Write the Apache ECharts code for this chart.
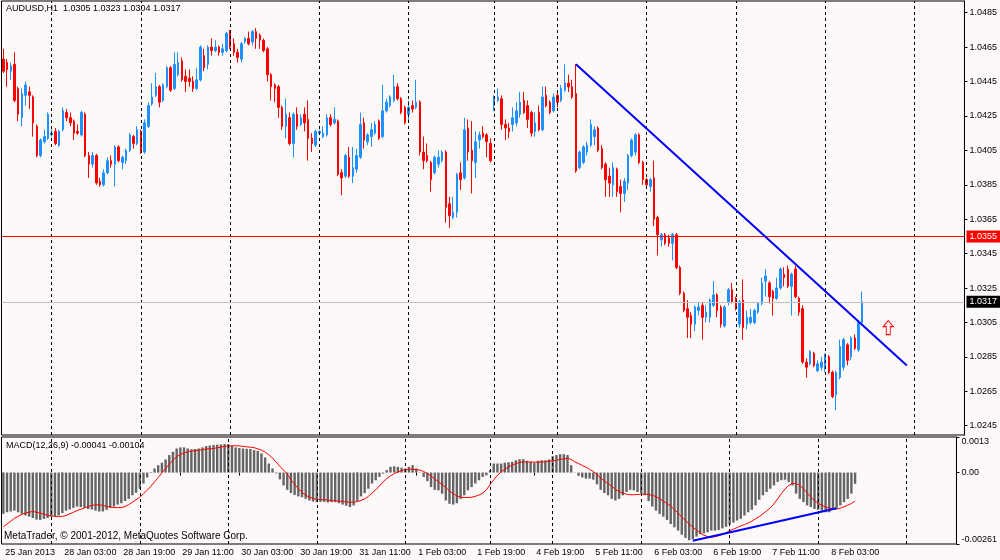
<!DOCTYPE html>
<html>
<head>
<meta charset="utf-8">
<title>AUDUSD,H1</title>
<script src="https://cdn.jsdelivr.net/npm/echarts@6/dist/echarts.min.js"></script>
<style>
  html, body { margin: 0; padding: 0; background: #fcf9f8; }
  #chart { width: 1000px; height: 560px; }
</style>
</head>
<body>
<div id="chart"></div>
<script>
// hourly bars, 25 Jan 11:00 .. 8 Feb 10:00
const opens = [
  1.0458,1.0456,1.0451,1.0455,1.0441,1.0424,1.0437,1.0439,1.0436,1.0419,1.0402,1.0410,
  1.0412,1.0414,1.0416,1.0408,1.0417,1.0427,1.0424,1.0422,1.0416,1.0414,1.0426,1.0402,
  1.0397,1.0402,1.0387,1.0385,1.0392,1.0399,1.0397,1.0407,1.0398,1.0399,1.0405,1.0413,
  1.0409,1.0416,1.0404,1.0419,1.0432,1.0437,1.0442,1.0434,1.0442,1.0453,1.0441,1.0449,
  1.0457,1.0448,1.0447,1.0445,1.0441,1.0446,1.0460,1.0455,1.0465,1.0463,1.0465,1.0462,
  1.0463,1.0474,1.0467,1.0462,1.0458,1.0468,1.0470,1.0468,1.0474,1.0472,1.0469,1.0464,
  1.0449,1.0443,1.0442,1.0430,1.0419,1.0424,1.0409,1.0426,1.0420,1.0426,1.0423,1.0412,
  1.0408,1.0415,1.0413,1.0414,1.0424,1.0421,1.0422,1.0392,1.0390,1.0401,1.0390,1.0394,
  1.0401,1.0421,1.0410,1.0413,1.0415,1.0422,1.0413,1.0428,1.0431,1.0434,1.0442,1.0435,
  1.0430,1.0426,1.0431,1.0430,1.0433,1.0404,1.0402,1.0398,1.0392,1.0397,1.0399,1.0404,
  1.0374,1.0366,1.0369,1.0392,1.0389,1.0418,1.0405,1.0398,1.0411,1.0415,1.0414,1.0409,
  1.0431,1.0434,1.0435,1.0420,1.0418,1.0420,1.0421,1.0426,1.0434,1.0431,1.0427,1.0416,
  1.0427,1.0417,1.0437,1.0433,1.0428,1.0437,1.0434,1.0440,1.0444,1.0442,1.0438,1.0395,
  1.0398,1.0404,1.0408,1.0413,1.0418,1.0406,1.0397,1.0390,1.0385,1.0394,1.0384,1.0380,
  1.0386,1.0402,1.0404,1.0414,1.0398,1.0388,1.0384,1.0389,1.0366,1.0353,1.0356,1.0354,
  1.0351,1.0356,1.0337,1.0322,1.0313,1.0309,1.0304,1.0312,1.0315,1.0308,1.0308,1.0315,
  1.0321,1.0314,1.0303,1.0317,1.0324,1.0319,1.0304,1.0318,1.0304,1.0305,1.0305,1.0311,
  1.0316,1.0329,1.0328,1.0323,1.0319,1.0325,1.0333,1.0336,1.0326,1.0336,1.0319,1.0313,
  1.0282,1.0281,1.0287,1.0277,1.0279,1.0280,1.0285,1.0276,1.0263,1.0273,1.0279,1.0292,
  1.0285,1.0296,1.0289,1.0305
];
const closes = [
  1.0451,1.0452,1.0454,1.0434,1.0426,1.0438,1.0443,1.0437,1.0421,1.0402,1.0411,1.0413,
  1.0426,1.0415,1.0409,1.0416,1.0428,1.0424,1.0421,1.0415,1.0415,1.0427,1.0402,1.0397,
  1.0402,1.0386,1.0385,1.0392,1.0399,1.0397,1.0407,1.0399,1.0401,1.0405,1.0414,1.0409,
  1.0417,1.0404,1.0421,1.0431,1.0436,1.0442,1.0433,1.0443,1.0453,1.0440,1.0455,1.0456,
  1.0446,1.0445,1.0445,1.0441,1.0446,1.0465,1.0453,1.0465,1.0463,1.0465,1.0462,1.0464,
  1.0473,1.0465,1.0462,1.0459,1.0467,1.0470,1.0467,1.0474,1.0470,1.0469,1.0463,1.0449,
  1.0442,1.0441,1.0430,1.0419,1.0426,1.0409,1.0426,1.0419,1.0424,1.0421,1.0412,1.0409,
  1.0416,1.0416,1.0415,1.0424,1.0420,1.0423,1.0391,1.0389,1.0402,1.0390,1.0395,1.0402,
  1.0420,1.0411,1.0414,1.0417,1.0420,1.0412,1.0428,1.0433,1.0436,1.0442,1.0435,1.0427,
  1.0421,1.0430,1.0429,1.0433,1.0404,1.0399,1.0399,1.0388,1.0401,1.0401,1.0404,1.0372,
  1.0367,1.0369,1.0391,1.0388,1.0417,1.0404,1.0399,1.0410,1.0414,1.0413,1.0410,1.0399,
  1.0435,1.0436,1.0420,1.0418,1.0416,1.0424,1.0428,1.0433,1.0427,1.0423,1.0415,1.0421,
  1.0417,1.0436,1.0431,1.0427,1.0436,1.0433,1.0441,1.0444,1.0442,1.0436,1.0393,1.0404,
  1.0407,1.0408,1.0420,1.0417,1.0405,1.0395,1.0388,1.0386,1.0395,1.0381,1.0380,1.0387,
  1.0402,1.0411,1.0414,1.0398,1.0388,1.0385,1.0388,1.0365,1.0356,1.0356,1.0351,1.0351,
  1.0356,1.0337,1.0322,1.0312,1.0308,1.0304,1.0314,1.0314,1.0308,1.0311,1.0318,1.0321,
  1.0312,1.0304,1.0314,1.0324,1.0317,1.0313,1.0317,1.0302,1.0308,1.0308,1.0312,1.0316,
  1.0328,1.0332,1.0320,1.0319,1.0325,1.0336,1.0331,1.0326,1.0333,1.0320,1.0311,1.0282,
  1.0279,1.0288,1.0280,1.0281,1.0282,1.0286,1.0276,1.0262,1.0276,1.0291,1.0295,1.0283,
  1.0296,1.0290,1.0305,1.0317
];
const lows = [
  1.0450,1.0442,1.0446,1.0433,1.0422,1.0419,1.0431,1.0429,1.0413,1.0401,1.0401,1.0409,
  1.0411,1.0413,1.0408,1.0407,1.0416,1.0422,1.0419,1.0411,1.0414,1.0413,1.0401,1.0389,
  1.0395,1.0385,1.0384,1.0384,1.0391,1.0395,1.0384,1.0398,1.0394,1.0397,1.0404,1.0406,
  1.0408,1.0403,1.0403,1.0418,1.0431,1.0436,1.0430,1.0433,1.0441,1.0439,1.0440,1.0448,
  1.0445,1.0439,1.0442,1.0439,1.0440,1.0445,1.0451,1.0452,1.0460,1.0462,1.0460,1.0460,
  1.0462,1.0464,1.0460,1.0456,1.0456,1.0467,1.0466,1.0466,1.0464,1.0464,1.0462,1.0445,
  1.0434,1.0433,1.0424,1.0417,1.0412,1.0408,1.0401,1.0417,1.0419,1.0416,1.0399,1.0404,
  1.0407,1.0414,1.0412,1.0413,1.0419,1.0420,1.0390,1.0379,1.0389,1.0389,1.0386,1.0392,
  1.0400,1.0406,1.0408,1.0407,1.0414,1.0411,1.0412,1.0427,1.0430,1.0433,1.0434,1.0426,
  1.0420,1.0421,1.0427,1.0429,1.0402,1.0394,1.0398,1.0381,1.0391,1.0395,1.0398,1.0363,
  1.0360,1.0365,1.0366,1.0382,1.0388,1.0399,1.0380,1.0389,1.0406,1.0412,1.0401,1.0398,
  1.0428,1.0433,1.0417,1.0411,1.0412,1.0416,1.0419,1.0424,1.0426,1.0418,1.0413,1.0413,
  1.0416,1.0416,1.0430,1.0426,1.0427,1.0430,1.0433,1.0439,1.0439,1.0435,1.0392,1.0394,
  1.0397,1.0402,1.0407,1.0408,1.0404,1.0394,1.0378,1.0378,1.0378,1.0378,1.0369,1.0375,
  1.0382,1.0401,1.0402,1.0397,1.0385,1.0384,1.0381,1.0361,1.0344,1.0349,1.0350,1.0349,
  1.0341,1.0336,1.0321,1.0311,1.0296,1.0296,1.0300,1.0309,1.0295,1.0305,1.0305,1.0314,
  1.0308,1.0302,1.0302,1.0315,1.0316,1.0312,1.0302,1.0295,1.0301,1.0304,1.0304,1.0310,
  1.0315,1.0320,1.0316,1.0309,1.0318,1.0324,1.0326,1.0325,1.0309,1.0319,1.0309,1.0281,
  1.0273,1.0280,1.0279,1.0276,1.0277,1.0276,1.0275,1.0261,1.0254,1.0272,1.0277,1.0280,
  1.0283,1.0289,1.0288,1.0304
];
const highs = [
  1.0464,1.0458,1.0456,1.0462,1.0442,1.0441,1.0445,1.0442,1.0437,1.0420,1.0412,1.0417,
  1.0427,1.0417,1.0418,1.0417,1.0430,1.0429,1.0427,1.0423,1.0420,1.0428,1.0427,1.0404,
  1.0404,1.0403,1.0389,1.0394,1.0401,1.0402,1.0408,1.0408,1.0402,1.0406,1.0415,1.0414,
  1.0419,1.0417,1.0423,1.0433,1.0444,1.0450,1.0443,1.0444,1.0454,1.0454,1.0462,1.0462,
  1.0459,1.0452,1.0452,1.0448,1.0453,1.0466,1.0464,1.0466,1.0470,1.0469,1.0466,1.0467,
  1.0474,1.0475,1.0470,1.0464,1.0468,1.0471,1.0474,1.0475,1.0476,1.0473,1.0470,1.0465,
  1.0450,1.0444,1.0443,1.0431,1.0435,1.0427,1.0427,1.0430,1.0426,1.0430,1.0434,1.0415,
  1.0417,1.0417,1.0419,1.0426,1.0426,1.0430,1.0423,1.0394,1.0403,1.0407,1.0407,1.0406,
  1.0427,1.0424,1.0415,1.0421,1.0422,1.0423,1.0443,1.0435,1.0437,1.0449,1.0444,1.0436,
  1.0431,1.0434,1.0434,1.0446,1.0434,1.0413,1.0409,1.0399,1.0402,1.0405,1.0405,1.0405,
  1.0378,1.0378,1.0392,1.0398,1.0424,1.0423,1.0422,1.0416,1.0416,1.0419,1.0415,1.0412,
  1.0437,1.0441,1.0437,1.0423,1.0421,1.0430,1.0433,1.0439,1.0439,1.0434,1.0428,1.0427,
  1.0431,1.0442,1.0442,1.0434,1.0438,1.0440,1.0443,1.0455,1.0449,1.0446,1.0455,1.0405,
  1.0408,1.0410,1.0423,1.0419,1.0419,1.0408,1.0398,1.0395,1.0398,1.0395,1.0388,1.0389,
  1.0403,1.0412,1.0415,1.0415,1.0399,1.0389,1.0389,1.0399,1.0367,1.0357,1.0357,1.0356,
  1.0357,1.0357,1.0338,1.0323,1.0318,1.0311,1.0315,1.0317,1.0317,1.0315,1.0319,1.0329,
  1.0322,1.0315,1.0315,1.0325,1.0328,1.0320,1.0318,1.0330,1.0312,1.0313,1.0313,1.0317,
  1.0331,1.0336,1.0329,1.0324,1.0331,1.0337,1.0337,1.0338,1.0334,1.0338,1.0320,1.0315,
  1.0284,1.0289,1.0288,1.0283,1.0285,1.0287,1.0286,1.0277,1.0277,1.0295,1.0296,1.0293,
  1.0297,1.0298,1.0306,1.0323
];

// MACD(12,26,9) histogram and signal, one value per bar
const macdHist = [
  -0.00151,-0.00145,-0.00142,-0.00139,-0.00145,-0.00151,-0.00157,-0.00161,-0.00166,-0.00172,-0.00173,-0.00169,
  -0.00166,-0.00161,-0.00160,-0.00157,-0.00148,-0.00139,-0.00135,-0.00129,-0.00124,-0.00126,-0.00129,-0.00133,
  -0.00135,-0.00139,-0.00142,-0.00142,-0.00136,-0.00129,-0.00124,-0.00117,-0.00112,-0.00104,-0.00096,-0.00083,
  -0.00074,-0.00059,-0.00040,-0.00018,0.00002,0.00015,0.00027,0.00036,0.00048,0.00064,0.00076,0.00088,
  0.00092,0.00092,0.00088,0.00085,0.00086,0.00088,0.00092,0.00097,0.00099,0.00101,0.00102,0.00103,
  0.00104,0.00104,0.00097,0.00092,0.00090,0.00088,0.00087,0.00086,0.00082,0.00079,0.00070,0.00055,
  0.00033,0.00015,-0.00003,-0.00025,-0.00047,-0.00063,-0.00075,-0.00082,-0.00087,-0.00090,-0.00096,-0.00102,
  -0.00106,-0.00108,-0.00107,-0.00107,-0.00109,-0.00108,-0.00108,-0.00112,-0.00117,-0.00121,-0.00126,-0.00120,
  -0.00104,-0.00087,-0.00075,-0.00059,-0.00040,-0.00028,-0.00016,-0.00004,0.00009,0.00021,0.00023,0.00021,
  0.00018,0.00015,0.00021,0.00027,0.00015,-0.00001,-0.00016,-0.00031,-0.00053,-0.00063,-0.00065,-0.00077,
  -0.00102,-0.00114,-0.00117,-0.00112,-0.00096,-0.00083,-0.00065,-0.00053,-0.00040,-0.00028,-0.00016,-0.00010,
  0.00009,0.00033,0.00033,0.00033,0.00036,0.00038,0.00039,0.00045,0.00049,0.00049,0.00043,0.00039,
  0.00036,0.00043,0.00045,0.00045,0.00048,0.00060,0.00064,0.00067,0.00067,0.00064,0.00027,-0.00001,
  -0.00012,-0.00018,-0.00022,-0.00022,-0.00026,-0.00043,-0.00063,-0.00075,-0.00083,-0.00096,-0.00102,-0.00096,
  -0.00083,-0.00071,-0.00063,-0.00065,-0.00071,-0.00075,-0.00083,-0.00104,-0.00124,-0.00139,-0.00151,-0.00161,
  -0.00173,-0.00188,-0.00200,-0.00212,-0.00227,-0.00239,-0.00247,-0.00244,-0.00234,-0.00225,-0.00222,-0.00218,
  -0.00212,-0.00212,-0.00210,-0.00204,-0.00198,-0.00190,-0.00183,-0.00175,-0.00169,-0.00157,-0.00145,-0.00136,
  -0.00120,-0.00099,-0.00083,-0.00071,-0.00059,-0.00047,-0.00034,-0.00028,-0.00026,-0.00034,-0.00047,-0.00077,
  -0.00096,-0.00108,-0.00120,-0.00126,-0.00133,-0.00136,-0.00139,-0.00145,-0.00145,-0.00136,-0.00129,-0.00120,
  -0.00108,-0.00096,-0.00077,-0.00041
];
const macdSignal = [
  -0.00198,-0.00188,-0.00178,-0.00167,-0.00160,-0.00153,-0.00148,-0.00145,-0.00142,-0.00145,-0.00148,-0.00152,
  -0.00156,-0.00158,-0.00160,-0.00161,-0.00160,-0.00157,-0.00151,-0.00145,-0.00139,-0.00134,-0.00129,-0.00124,
  -0.00120,-0.00118,-0.00118,-0.00120,-0.00124,-0.00126,-0.00128,-0.00128,-0.00128,-0.00124,-0.00117,-0.00108,
  -0.00099,-0.00090,-0.00077,-0.00065,-0.00050,-0.00034,-0.00018,-0.00001,0.00015,0.00031,0.00045,0.00058,
  0.00066,0.00072,0.00076,0.00079,0.00080,0.00082,0.00083,0.00086,0.00087,0.00088,0.00091,0.00093,
  0.00096,0.00097,0.00098,0.00098,0.00097,0.00096,0.00094,0.00093,0.00091,0.00087,0.00082,0.00075,
  0.00065,0.00053,0.00038,0.00023,0.00009,-0.00006,-0.00026,-0.00043,-0.00059,-0.00072,-0.00083,-0.00090,
  -0.00094,-0.00098,-0.00099,-0.00099,-0.00101,-0.00102,-0.00103,-0.00104,-0.00106,-0.00107,-0.00108,-0.00108,
  -0.00106,-0.00102,-0.00096,-0.00087,-0.00075,-0.00063,-0.00049,-0.00034,-0.00022,-0.00012,-0.00004,0.00002,
  0.00007,0.00011,0.00012,0.00012,0.00011,0.00009,0.00004,-0.00004,-0.00013,-0.00023,-0.00034,-0.00044,
  -0.00055,-0.00067,-0.00077,-0.00085,-0.00090,-0.00091,-0.00091,-0.00090,-0.00087,-0.00082,-0.00075,-0.00063,
  -0.00044,-0.00026,-0.00010,0.00002,0.00012,0.00021,0.00027,0.00033,0.00037,0.00039,0.00039,0.00039,
  0.00038,0.00038,0.00039,0.00039,0.00042,0.00043,0.00045,0.00048,0.00050,0.00052,0.00048,0.00039,
  0.00033,0.00026,0.00020,0.00012,0.00004,-0.00007,-0.00020,-0.00031,-0.00040,-0.00050,-0.00061,-0.00069,
  -0.00075,-0.00079,-0.00081,-0.00081,-0.00080,-0.00079,-0.00079,-0.00080,-0.00083,-0.00088,-0.00096,-0.00104,
  -0.00113,-0.00123,-0.00135,-0.00148,-0.00163,-0.00175,-0.00188,-0.00200,-0.00210,-0.00221,-0.00229,-0.00234,
  -0.00237,-0.00234,-0.00231,-0.00226,-0.00220,-0.00212,-0.00207,-0.00201,-0.00195,-0.00190,-0.00184,-0.00178,
  -0.00169,-0.00161,-0.00151,-0.00140,-0.00129,-0.00114,-0.00096,-0.00077,-0.00060,-0.00047,-0.00040,-0.00040,
  -0.00047,-0.00059,-0.00074,-0.00090,-0.00102,-0.00112,-0.00120,-0.00126,-0.00130,-0.00133,-0.00133,-0.00130,
  -0.00125,-0.00119,-0.00113,-0.00104
];

// time axis: bar slot of each label, and day separator slots
const tickBars = [0, 16, 32, 48, 64, 80, 96, 112, 128, 144, 160, 176, 192, 208, 224];
const tickLabels = ['25 Jan 2013', '28 Jan 03:00', '28 Jan 19:00', '29 Jan 11:00', '30 Jan 03:00',
  '30 Jan 19:00', '31 Jan 11:00', '1 Feb 03:00', '1 Feb 19:00', '4 Feb 19:00', '5 Feb 11:00',
  '6 Feb 03:00', '6 Feb 19:00', '7 Feb 11:00', '8 Feb 03:00'];
const daySeparators = [13, 37, 61, 85, 109, 132, 149, 173, 197, 221, 245];

const priceTicks = [1.0245, 1.0265, 1.0285, 1.0305, 1.0325, 1.0345, 1.0365, 1.0385, 1.0405, 1.0425, 1.0445, 1.0465, 1.0485];
const macdTicks = [-0.00261, 0, 0.0013];
const macdTickLabels = ['-0.00261', '0.00', '0.0013'];

const redLevel = 1.0355;
const bidLevel = 1.0317;
const trendLine = [[154, 1.0455], [243, 1.0280]];
const macdTrend = [[187, -0.00249], [226, -0.00130]];
const arrowAt = [238, 1.0302];

const slotCount = 259;
const slots = Array.from({ length: slotCount }, (_, i) => String(i));
const candles = opens.map((o, i) => [o, closes[i], lows[i], highs[i]]);
const last = opens.length - 1;

const font = '"Liberation Sans", Arial, sans-serif';
const bg = '#fcf9f8';
const sepStyle = { color: '#000', type: [3, 3], width: 1 };
const sepLines = () => daySeparators.map(i => ({ xAxis: i, lineStyle: sepStyle, label: { show: false } }));
const isTick = i => tickBars.indexOf(i) >= 0;

function levelLine(value, color, lineColor) {
  return {
    yAxis: value,
    lineStyle: { color: lineColor, type: 'solid', width: 1 },
    label: {
      show: true, position: 'end', distance: 2,
      formatter: value.toFixed(4),
      backgroundColor: color, color: '#fff',
      fontFamily: font, fontSize: 9, lineHeight: 10,
      padding: [1, 3, 1, 3]
    }
  };
}

const chart = echarts.init(document.getElementById('chart'));
chart.setOption({
  animation: false,
  backgroundColor: bg,
  textStyle: { fontFamily: font },
  grid: [
    { left: 1.5, right: 35, top: 1, height: 434, show: true, borderColor: '#000', borderWidth: 1 },
    { left: 1.5, right: 35, top: 437, height: 107, show: true, borderColor: '#000', borderWidth: 1 }
  ],
  xAxis: [
    {
      type: 'category', gridIndex: 0, data: slots, boundaryGap: true,
      axisLine: { show: false }, axisTick: { show: false }, axisLabel: { show: false }, splitLine: { show: false }
    },
    {
      type: 'category', gridIndex: 1, data: slots, boundaryGap: true,
      axisLine: { show: false },
      axisTick: { show: true, alignWithLabel: true, interval: isTick, length: 3, lineStyle: { color: '#000' } },
      axisLabel: {
        interval: isTick, align: 'left', margin: 4, fontSize: 9, color: '#000', padding: [0, 0, 0, 2],
        formatter: v => tickLabels[tickBars.indexOf(Number(v))]
      },
      splitLine: { show: false }
    }
  ],
  yAxis: [
    {
      type: 'value', gridIndex: 0, position: 'right', min: 1.02396, max: 1.04918,
      axisLine: { show: true, lineStyle: { color: '#000' } },
      axisTick: { show: true, length: 3, customValues: priceTicks, lineStyle: { color: '#000' } },
      axisLabel: { customValues: priceTicks, formatter: v => v.toFixed(4), fontSize: 9, color: '#000', margin: 5 },
      splitLine: { show: false }
    },
    {
      type: 'value', gridIndex: 1, position: 'right', min: -0.00261, max: 0.0013,
      axisLine: { show: true, lineStyle: { color: '#000' } },
      axisTick: { show: true, length: 3, customValues: macdTicks, lineStyle: { color: '#000' } },
      axisLabel: {
        customValues: macdTicks, fontSize: 9, color: '#000', margin: 5,
        verticalAlignMinLabel: 'bottom', verticalAlignMaxLabel: 'top',
        formatter: v => macdTickLabels[macdTicks.indexOf(v)]
      },
      splitLine: { show: false }
    }
  ],
  graphic: [
    {
      type: 'text', left: 6, top: 4, silent: true,
      style: {
        text: 'AUDUSD,H1  ' + [opens[last], highs[last], lows[last], closes[last]].map(v => v.toFixed(4)).join(' '),
        font: '9px ' + font, fill: '#000'
      }
    },
    {
      type: 'text', left: 6, top: 441, silent: true,
      style: {
        text: 'MACD(12,26,9) ' + macdHist[last].toFixed(5) + ' ' + macdSignal[last].toFixed(5),
        font: '9px ' + font, fill: '#000'
      }
    },
    {
      type: 'text', left: 4, top: 531, silent: true,
      style: { text: 'MetaTrader, \u00a9 2001-2012, MetaQuotes Software Corp.', font: '10px ' + font, fill: '#000' }
    }
  ],
  series: [
    {
      type: 'candlestick', xAxisIndex: 0, yAxisIndex: 0, data: candles, barWidth: 2, silent: true,
      itemStyle: { color: '#1e90ff', color0: '#ff0000', borderColor: '#1e90ff', borderColor0: '#ff0000', borderWidth: 1 },
      markLine: {
        silent: true, symbol: ['none', 'none'], animation: false, precision: 5,
        label: { show: false },
        data: sepLines().concat([
          levelLine(redLevel, '#ff0000', '#ff0000'),
          levelLine(bidLevel, '#000', '#c0c0c0'),
          [
            { coord: trendLine[0], lineStyle: { color: '#0000ff', width: 2, type: 'solid' }, label: { show: false } },
            { coord: trendLine[1] }
          ]
        ])
      },
      markPoint: {
        silent: true, animation: false,
        label: { show: false },
        data: [{
          coord: arrowAt,
          symbol: 'path://M5,0 L10,6 L7,6 L7,14 L3,14 L3,6 L0,6 Z',
          symbolSize: [10, 14],
          itemStyle: { color: bg, borderColor: '#ff0000', borderWidth: 1 }
        }]
      }
    },
    {
      type: 'bar', xAxisIndex: 1, yAxisIndex: 1, data: macdHist, barWidth: 2.4, silent: true,
      itemStyle: { color: '#646464' },
      markLine: {
        silent: true, symbol: ['none', 'none'], animation: false,
        label: { show: false },
        data: sepLines()
      }
    },
    {
      type: 'line', xAxisIndex: 1, yAxisIndex: 1, data: macdSignal, showSymbol: false, silent: true, z: 3,
      lineStyle: { color: '#ff0000', width: 1 },
      markLine: {
        silent: true, symbol: ['none', 'none'], animation: false, precision: 5,
        label: { show: false },
        data: [[
          { coord: macdTrend[0], lineStyle: { color: '#0000ff', width: 2, type: 'solid' } },
          { coord: macdTrend[1] }
        ]]
      }
    }
  ]
});
</script>
</body>
</html>
